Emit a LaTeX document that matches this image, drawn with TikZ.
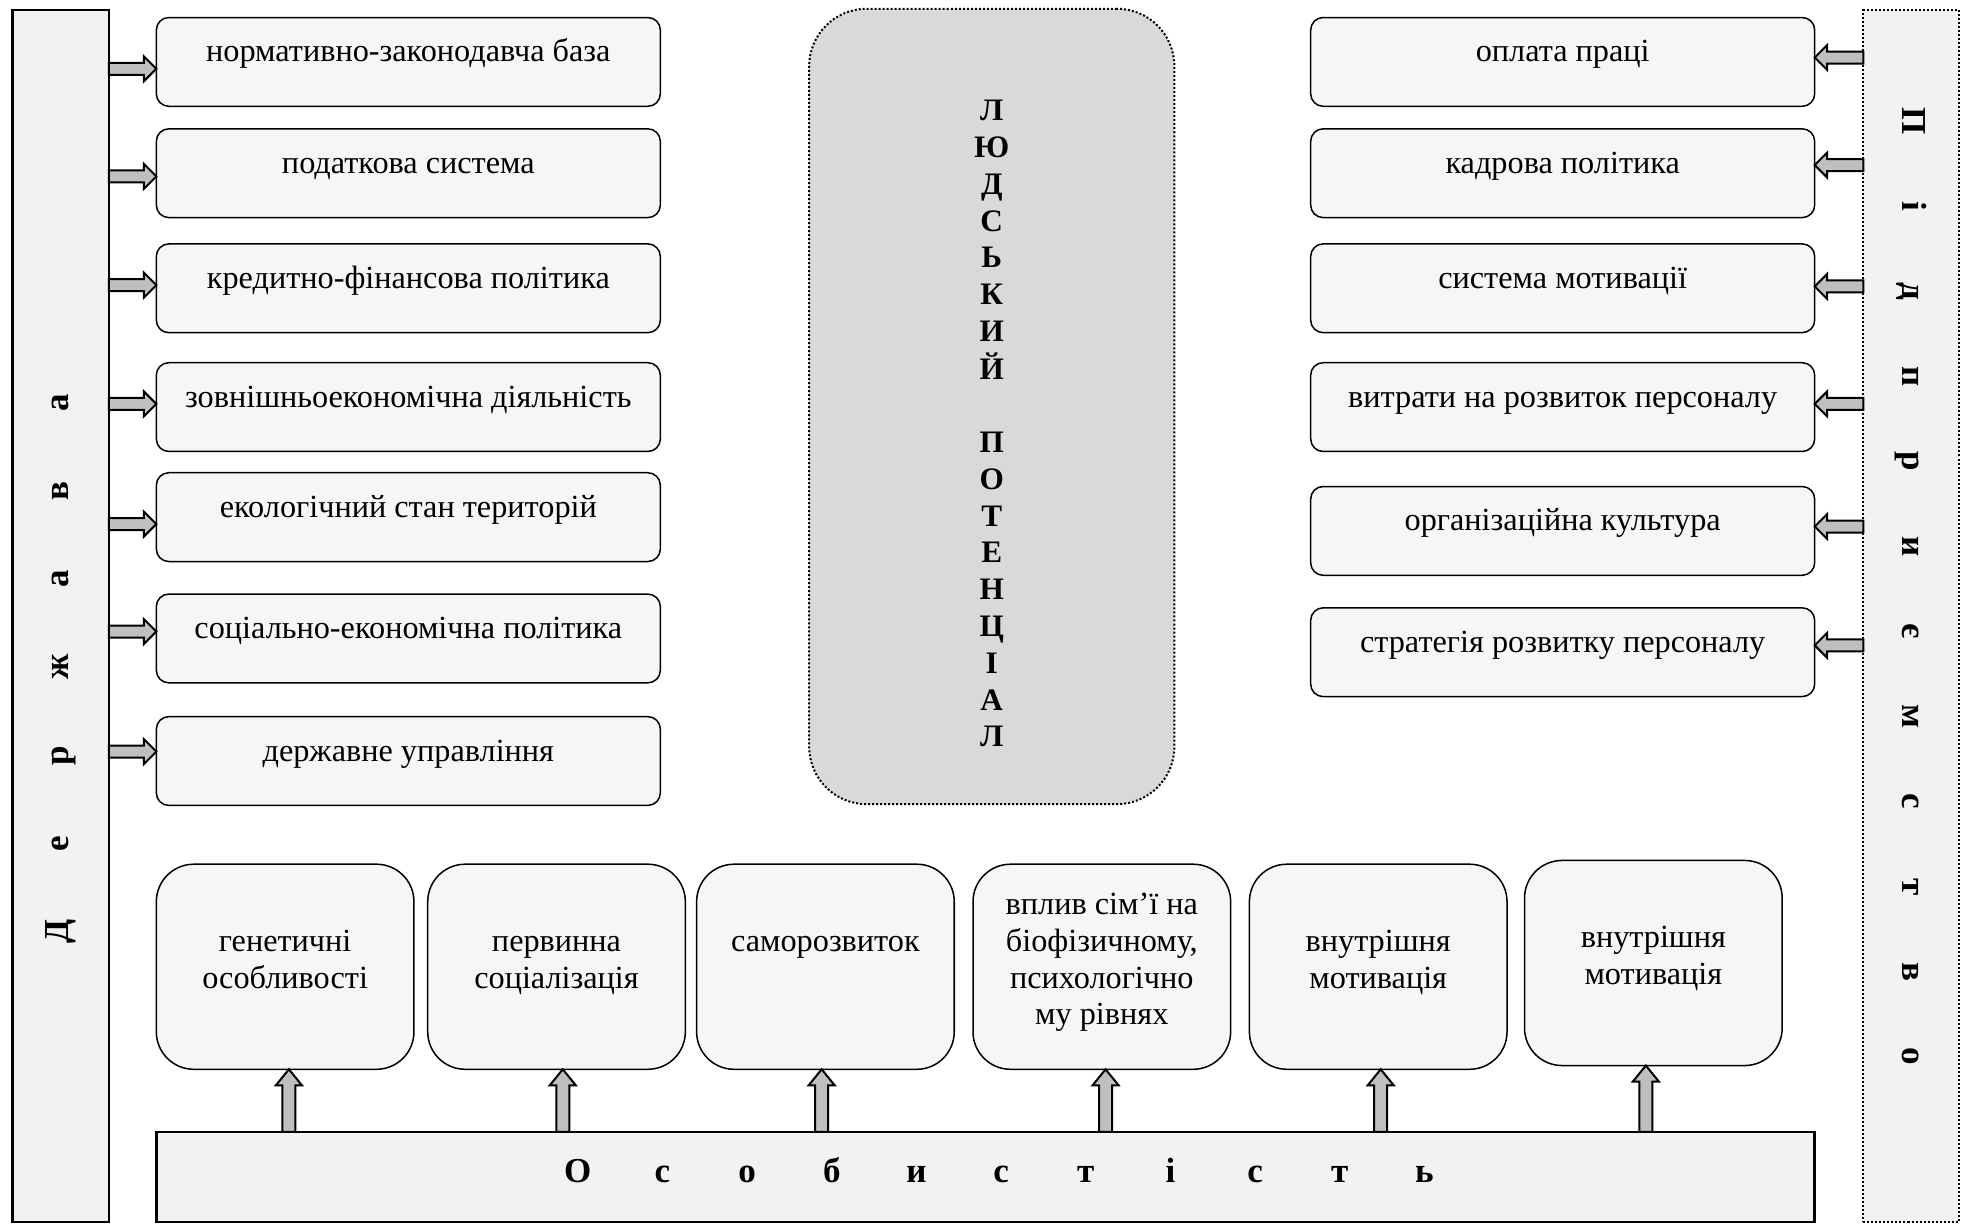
\documentclass[tikz,border=0pt]{standalone}
\usepackage{fontspec}
\setmainfont{Liberation Serif}
\usetikzlibrary{calc}
\definecolor{boxfill}{HTML}{F6F6F6}
\definecolor{barfill}{HTML}{F2F2F2}
\definecolor{corefill}{HTML}{D9D9D9}
\definecolor{arrfill}{HTML}{BFBFBF}
\newcommand\upby[2]{\raisebox{#1}[\height][\depth]{#2}}
\newcommand\lines[1]{\begin{tabular}{@{}c@{}}#1\end{tabular}}
\newcommand\dl[1]{\makebox[35.25pt]{#1}}
\newcommand\pl[1]{\makebox[34pt]{#1}}
\newcommand\ol[1]{\makebox[33.85pt]{#1}}
\tikzset{
  every node/.style={inner sep=0pt, outer sep=0pt},
  fbox/.style={draw, line width=0.6pt, fill=boxfill, rounded corners=5pt,
    minimum width=201.5pt, minimum height=35.5pt, anchor=north west,
    font=\fontsize{12.9}{14.7}\selectfont, text height=9pt, text depth=9pt},
  pbox/.style={draw, line width=0.6pt, fill=boxfill, rounded corners=15pt,
    minimum width=103pt, minimum height=82pt, anchor=north west,
    font=\fontsize{12.9}{14.7}\selectfont},
  sidebar/.style={draw, line width=1pt, fill=barfill, anchor=north west},
  dotbar/.style={draw, line width=0.8pt, dash pattern=on 0.8pt off 0.8pt, fill=barfill, anchor=north west},
  core/.style={draw, line width=0.8pt, dash pattern=on 0.8pt off 0.8pt, fill=corefill,
    rounded corners=23pt, anchor=north west, minimum width=146pt, minimum height=318pt,
    font=\fontsize{12.5}{14.7}\selectfont\bfseries},
  bartext/.style={font=\fontsize{14}{16}\selectfont\bfseries},
  blk/.style={draw, line width=0.8pt, fill=arrfill, line join=miter},
}
% right-pointing block arrow from left bar to box #1, vertical offset #2
\newcommand\rarr[2]{\draw[blk] let \p1=($(lbar.east|-#1.west)+(0,#2)$), \p2=($(#1.west)+(0,#2)$) in
  (\x1,\y1+2.4pt) -- (\x2-5pt,\y1+2.4pt) -- (\x2-5pt,\y1+5pt) -- (\x2,\y1)
  -- (\x2-5pt,\y1-5pt) -- (\x2-5pt,\y1-2.4pt) -- (\x1,\y1-2.4pt) -- cycle;}
% left-pointing block arrow from right bar to box #1
\newcommand\larr[2]{\draw[blk] let \p1=($(rbar.west|-#1.east)+(0,#2)$), \p2=($(#1.east)+(0,#2)$) in
  (\x1,\y1+2.4pt) -- (\x2+5pt,\y1+2.4pt) -- (\x2+5pt,\y1+5pt) -- (\x2,\y1)
  -- (\x2+5pt,\y1-5pt) -- (\x2+5pt,\y1-2.4pt) -- (\x1,\y1-2.4pt) -- cycle;}
% up-pointing block arrow from bottom bar to box #1, horizontal offset #2
\newcommand\uarr[2]{\draw[blk] let \p1=($(#1.south)+(#2,0)$), \p2=($(pbar.north-|#1.south)+(#2,0)$) in
  (\x2-2.6pt,\y2) -- (\x2-2.6pt,\y1-6.4pt) -- (\x2-5.2pt,\y1-6.4pt) -- (\x1,\y1)
  -- (\x2+5.2pt,\y1-6.4pt) -- (\x2+2.6pt,\y1-6.4pt) -- (\x2+2.6pt,\y2) -- cycle;}
\begin{document}
\begin{tikzpicture}[x=0.5pt, y=-0.5pt]
\useasboundingbox (0,0) rectangle (1568,979);
% side bars
\node[sidebar, minimum width=38.5pt, minimum height=484.5pt] (lbar) at (10,8) {};
\node[bartext, rotate=90] (lbartext) at (48.5,533.5) {\dl{Д}\dl{е}\dl{р}\dl{ж}\dl{а}\dl{в}\dl{а}};
\node[dotbar, minimum width=38pt, minimum height=484.5pt] (rbar) at (1490,8) {};
\node[bartext, rotate=-90] (rbartext) at (1528,471) {\pl{П}\pl{і}\pl{д}\pl{п}\pl{р}\pl{и}\pl{є}\pl{м}\pl{с}\pl{т}\pl{в}\pl{о}};
% centre
\node[core] (hp) at (647,7) {\upby{-8pt}{\lines{Л\\Ю\\Д\\С\\Ь\\К\\И\\Й\\\mbox{}\\П\\О\\Т\\Е\\Н\\Ц\\І\\А\\Л}}};
% left boxes
\node[fbox] (L1) at (125,14) {нормативно-законодавча база};
\node[fbox] (L2) at (125,103) {податкова система};
\node[fbox] (L3) at (125,195) {кредитно-фінансова політика};
\node[fbox] (L4) at (125,290) {зовнішньоекономічна діяльність};
\node[fbox] (L5) at (125,378) {екологічний стан територій};
\node[fbox] (L6) at (125,475) {соціально-економічна політика};
\node[fbox] (L7) at (125,573) {державне управління};
% right boxes
\node[fbox] (R1) at (1048,14) {оплата праці};
\node[fbox] (R2) at (1048,103) {кадрова політика};
\node[fbox] (R3) at (1048,195) {система мотивації};
\node[fbox] (R4) at (1048,290) {витрати на розвиток персоналу};
\node[fbox] (R5) at (1048,389) {організаційна культура};
\node[fbox] (R6) at (1048,486) {стратегія розвитку персоналу};
% bottom boxes
\node[pbox] (P1) at (125,691) {\upby{1.75pt}{\lines{генетичні\\особливості}}};
\node[pbox] (P2) at (342,691) {\upby{1.75pt}{\lines{первинна\\соціалізація}}};
\node[pbox] (P3) at (557,691) {\upby{1.75pt}{\lines{саморозвиток\\\mbox{}}}};
\node[pbox] (P4) at (778,691) {\upby{1.75pt}{\lines{вплив сім’ї на\\біофізичному,\\психологічно\\му рівнях}}};
\node[pbox] (P5) at (999,691) {\upby{1.75pt}{\lines{внутрішня\\мотивація}}};
\node[pbox] (P6) at (1219,688) {\upby{1.75pt}{\lines{внутрішня\\мотивація}}};
% bottom bar
\node[sidebar, minimum width=663pt, minimum height=36pt, bartext] (pbar) at (125,905)
  {\upby{2.5pt}{\hspace*{12.5pt}\ol{О}\ol{с}\ol{о}\ol{б}\ol{и}\ol{с}\ol{т}\ol{і}\ol{с}\ol{т}\ol{ь}}};
% arrows
\rarr{L1}{5.5}
\rarr{L2}{2.5}
\rarr{L3}{-2.5}
\rarr{L4}{-2.5}
\rarr{L5}{5.5}
\rarr{L6}{-5.5}
\rarr{L7}{-7.5}
\larr{R1}{-3.5}
\larr{R2}{-6.5}
\larr{R3}{-1.5}
\larr{R4}{-2.5}
\larr{R5}{-3.5}
\larr{R6}{-5.5}
\uarr{P1}{3}
\uarr{P2}{5}
\uarr{P3}{-3}
\uarr{P4}{3}
\uarr{P5}{2}
\uarr{P6}{-6}
\end{tikzpicture}
\end{document}
